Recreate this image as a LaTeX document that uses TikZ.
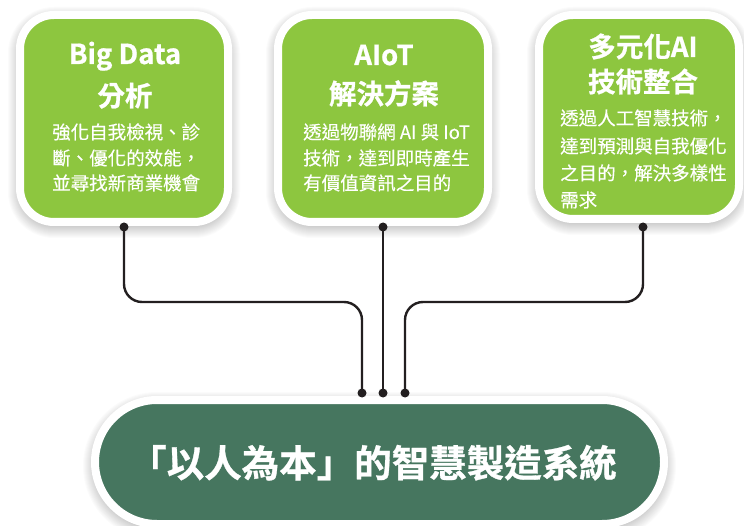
\documentclass[tikz,border=0pt]{standalone}
\usepackage{fontspec}
\setmainfont{Noto Sans CJK TC}[BoldFont={Noto Sans CJK TC Bold}]
\newfontfamily\heavyfont{Noto Sans CJK TC Bold}[FakeBold=0.8]
\newfontfamily\bodyfont{Noto Sans CJK TC}[FakeBold=0.35]
\usetikzlibrary{calc}
\definecolor{leaf}{HTML}{8DC63F}
\definecolor{pine}{HTML}{46765F}
\definecolor{ink}{HTML}{231F20}
\newcommand\softglow[5]{%
  \foreach \i in {1,...,12}{%
    \fill[black,opacity=0.016,rounded corners={(#5+\i)*1pt}] (#1-\i,#2-\i+4) rectangle (#3+\i,#4+\i+4);}}
\tikzset{
  gbox/.style={fill=leaf, draw=white, line width=8pt, rounded corners=34pt, inner sep=0pt, outer sep=0pt},
  mbox/.style={fill=pine, draw=white, line width=8pt, rounded corners=62pt, inner sep=0pt, outer sep=0pt},
  ttl/.style={text=white, font=\heavyfont\fontsize{27.5}{30}\selectfont, anchor=base, inner sep=0pt},
  body/.style={text=white, font=\bodyfont\fontsize{18.5}{22}\selectfont, anchor=base west, inner sep=0pt},
  maint/.style={text=white, font=\heavyfont\fontsize{37.5}{40}\selectfont, anchor=base, inner sep=0pt},
  conn/.style={draw=ink, line width=2.4pt, rounded corners=18pt},
  dot/.style={fill=ink}
}
\begin{document}
\begin{tikzpicture}[x=1pt,y=-1pt]
\fill[white] (0,0) rectangle (744,526);
\useasboundingbox (0,0) rectangle (744,526);
% shadows
\softglow{20}{15}{228}{222}{34}
\softglow{278}{15}{488}{222}{34}
\softglow{539}{15}{739}{219}{34}
\softglow{95}{400}{664}{524}{62}
% boxes
\node[gbox, minimum width=208pt, minimum height=207pt] (b1) at (124,118.5) {};
\node[gbox, minimum width=210pt, minimum height=207pt] (b2) at (383,118.5) {};
\node[gbox, minimum width=200pt, minimum height=204pt] (b3) at (639,117) {};
\node[mbox, minimum width=569pt, minimum height=124pt] (m) at (379.5,462) {};
% box 1 text
\node[ttl] (t1a) at (125,64) {Big Data};
\node[ttl] (t1b) at (125,106) {分析};
\node[body] (p1a) at (52,139) {強化自我檢視、診};
\node[body] (p1b) at (52,165) {斷、優化的效能，};
\node[body] (p1c) at (52,190) {並尋找新商業機會};
% box 2 text
\node[ttl] (t2a) at (384,65) {AIoT};
\node[ttl] (t2b) at (384,104) {解決方案};
\node[body] (p2a) at (303,139) {透過物聯網 AI 與 IoT};
\node[body] (p2b) at (303,165) {技術，達到即時產生};
\node[body] (p2c) at (303,190) {有價值資訊之目的};
% box 3 text
\node[ttl] (t3a) at (643,57) {多元化AI};
\node[ttl] (t3b) at (643,92) {技術整合};
\node[body] (p3a) at (560,125) {透過人工智慧技術，};
\node[body] (p3b) at (560,153) {達到預測與自我優化};
\node[body] (p3c) at (560,180) {之目的，解決多樣性};
\node[body] (p3d) at (560,207) {需求};
% main text
\node[maint] (mt) at (373,477) {「以人為本」的智慧製造系統};
% connectors
\coordinate (d1) at (124,227);
\coordinate (d2) at (383,227);
\coordinate (d3) at (643,227);
\coordinate (e1) at (362,393);
\coordinate (e2) at (383,393);
\coordinate (e3) at (405,393);
\coordinate (h1) at (362,302);
\coordinate (h3) at (405,302);
\draw[conn] (d1) |- (h1) -- (e1);
\draw[conn] (d2) -- (e2);
\draw[conn] (d3) |- (h3) -- (e3);
\foreach \c in {d1,d2,d3,e1,e2,e3} \fill[dot] (\c) circle (4.5pt);
\end{tikzpicture}
\end{document}
